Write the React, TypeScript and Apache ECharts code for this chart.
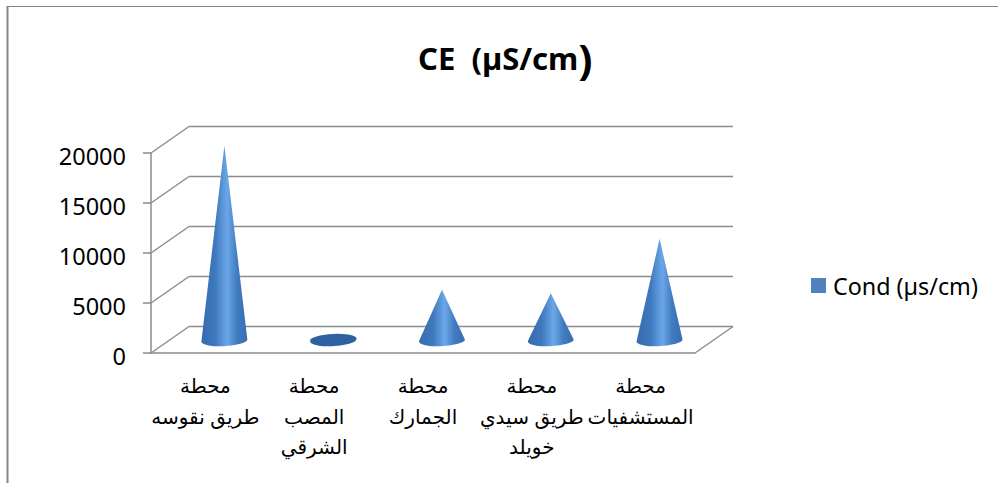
import React, { useEffect, useRef } from "react";
import * as echarts from "echarts";

const categories = [
  "محطة\nطريق نقوسه",
  "محطة\nالمصب\nالشرقي",
  "محطة\nالجمارك",
  "محطة\nطريق سيدي\nخويلد",
  "محطة\nالمستشفيات",
];
const condValues = [19400, 200, 5000, 4650, 10100];
const yTicks = [0, 5000, 10000, 15000, 20000];
const seriesName = "Cond (µs/cm)";

const DEPTH_X = 38;
const DEPTH_Y = -26.5;
const LINE = "#8c8c8c";
const UI_FONT = '"Noto Sans", "Open Sans", sans-serif';
const AR_FONT = '"Liberation Sans", "DejaVu Sans", sans-serif';

function renderWall(params: any, api: any) {
  const v = api.value(0);
  const cs = params.coordSys;
  const front = api.coord([0, v]);
  const x0 = cs.x;
  const y = front[1];
  const bx = x0 + DEPTH_X;
  const by = y + DEPTH_Y;
  const children: any[] = [
    { type: "line", shape: { x1: x0, y1: y, x2: bx, y2: by }, style: { stroke: LINE, lineWidth: 1.5 } },
    { type: "line", shape: { x1: bx, y1: by, x2: bx + cs.width, y2: by }, style: { stroke: LINE, lineWidth: 1.5 } },
  ];
  if (v === 0) {
    children.push({
      type: "line",
      shape: { x1: x0 + cs.width, y1: y, x2: bx + cs.width, y2: by },
      style: { stroke: LINE, lineWidth: 1.5 },
    });
  }
  return { type: "group", children };
}

function renderCone(params: any, api: any) {
  const idx = api.value(0);
  const val = api.value(1);
  const base = api.coord([idx, 0]);
  const top = api.coord([idx, val]);
  const cx = base[0] + DEPTH_X / 2;
  const cy = base[1] + DEPTH_Y / 2;
  const tx = top[0] + DEPTH_X / 2;
  const ty = top[1] + DEPTH_Y / 2;
  const rx = 23;
  const ry = 5.8;
  const tilt = -3.4;
  const rad = (tilt * Math.PI) / 180;
  const lx = cx - rx * Math.cos(rad);
  const ly = cy - rx * Math.sin(rad);
  const rxp = cx + rx * Math.cos(rad);
  const ryp = cy + rx * Math.sin(rad);
  const grad = new echarts.graphic.LinearGradient(0, 0, 1, 0, [
    { offset: 0, color: "#376bae" },
    { offset: 0.3, color: "#3f78bd" },
    { offset: 0.56, color: "#6ba7e8" },
    { offset: 0.78, color: "#407abf" },
    { offset: 1, color: "#386eb2" },
  ]);
  const ellipse = `M${lx} ${ly}A${rx} ${ry} ${tilt} 1 0 ${rxp} ${ryp}A${rx} ${ry} ${tilt} 1 0 ${lx} ${ly}Z`;
  if (cy - ty < ry * 2) {
    return {
      type: "path",
      shape: { pathData: ellipse },
      style: { fill: "#2f609f" },
    };
  }
  const body = `M${lx} ${ly}A${rx} ${ry} ${tilt} 1 0 ${rxp} ${ryp}L${tx} ${ty}Z`;
  return {
    type: "path",
    shape: { pathData: body },
    style: { fill: grad },
  };
}

export default function App() {
  const ref = useRef<HTMLDivElement>(null);
  useEffect(() => {
    const chart = echarts.init(ref.current!, null, { renderer: "svg" });
    chart.setOption({
      animation: false,
      backgroundColor: "#ffffff",
      title: {
        text: "{a|CE  (µS/cm}{b|)}",
        left: 413,
        top: 32,
        textStyle: {
          rich: {
            a: { fontFamily: UI_FONT, fontWeight: "bold", fontSize: 31, color: "#000" },
            b: { fontFamily: UI_FONT, fontWeight: "bold", fontSize: 42, color: "#000" },
          },
        },
      },
      legend: {
        data: [seriesName],
        left: 811,
        top: 274,
        padding: 0,
        itemWidth: 15,
        itemHeight: 15,
        icon: "rect",
        textStyle: { fontFamily: UI_FONT, fontSize: 23.3, color: "#000", padding: [0, 0, 0, 2] },
      },
      grid: { left: 151, top: 153, width: 544, height: 200 },
      xAxis: {
        type: "category",
        data: categories,
        axisLine: { lineStyle: { color: LINE, width: 1.5 } },
        axisTick: { length: 7, lineStyle: { color: LINE, width: 1.5 } },
        axisLabel: {
          interval: 0,
          fontFamily: AR_FONT,
          fontSize: 20,
          lineHeight: 30.5,
          margin: 18,
          color: "#000",
        },
      },
      yAxis: {
        type: "value",
        min: 0,
        max: 20000,
        interval: 5000,
        splitLine: { show: false },
        axisLine: { show: true, lineStyle: { color: LINE, width: 1.5 } },
        axisTick: { show: true, length: 8, lineStyle: { color: LINE, width: 1.5 } },
        axisLabel: {
          fontFamily: UI_FONT,
          fontSize: 23.5,
          margin: 25,
          verticalAlign: "top",
          lineHeight: 6,
          color: "#000",
          formatter: (v: number) => String(v),
        },
      },
      series: [
        {
          type: "custom",
          name: "walls",
          renderItem: renderWall,
          data: yTicks.map((v) => [v]),
          encode: { y: 0 },
          silent: true,
          z: 1,
        },
        {
          type: "custom",
          name: seriesName,
          renderItem: renderCone,
          data: condValues.map((v, i) => [i, v]),
          encode: { x: 0, y: 1 },
          itemStyle: { color: "#4f81bd" },
          z: 2,
        },
      ],
      graphic: [
        { type: "line", shape: { x1: 7, y1: 6.5, x2: 998, y2: 6.5 }, style: { stroke: "#868686", lineWidth: 1 } },
        { type: "line", shape: { x1: 7.5, y1: 6, x2: 7.5, y2: 483 }, style: { stroke: "#868686", lineWidth: 2 } },
      ],
    });
    return () => chart.dispose();
  }, []);
  return <div ref={ref} style={{ position: "fixed", left: 0, top: 0, width: 998, height: 483 }} />;
}
